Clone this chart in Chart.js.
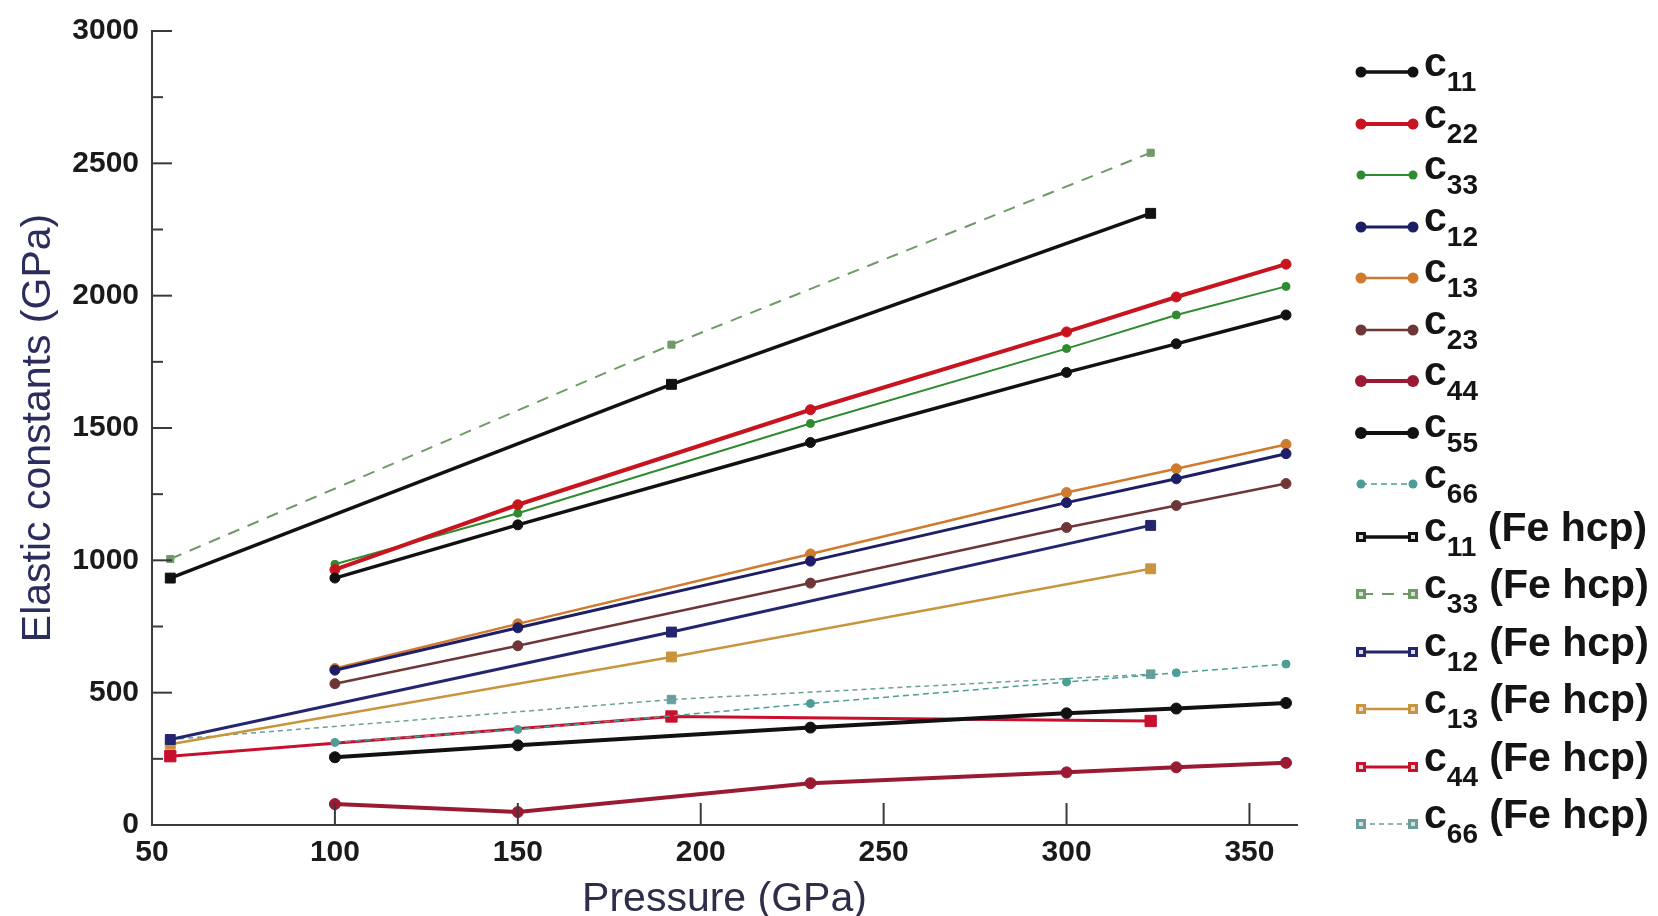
<!DOCTYPE html>
<html>
<head>
<meta charset="utf-8">
<script src="https://cdn.jsdelivr.net/npm/chart.js@4.4.1/dist/chart.umd.min.js"></script>
<style>
  html, body { margin: 0; padding: 0; background: #fff; }
  #wrap { position: relative; width: 1658px; height: 916px; }
  #legend { position: absolute; left: 0; top: 0; }
  .row { position: absolute; left: 1355px; height: 1px; }
  .row canvas { position: absolute; left: 0; top: -10px; }
  .row .lab { position: absolute; left: 69px; top: -31px; white-space: nowrap;
    font-family: "Liberation Sans", Arial, sans-serif; font-weight: bold; font-size: 41px; line-height: 42px; color: #141414; }
  .lab sub { font-size: 28px; vertical-align: -15px; line-height: 0; }
</style>
</head>
<body>
<div id="wrap">
  <canvas id="myChart" width="1658" height="916"></canvas>
  <div id="legend"></div>
</div>
<script>
// data block
const pressure = [100, 150, 230, 300, 330, 360];
const pressureHcp = [55, 192, 323];

const c11 = [933, 1134, 1445, 1710, 1818, 1927];
const c22 = [965, 1210, 1569, 1863, 1995, 2119];
const c33 = [985, 1178, 1517, 1800, 1927, 2035];
const c12 = [585, 745, 997, 1218, 1308, 1403];
const c13 = [591, 760, 1024, 1256, 1346, 1438];
const c23 = [534, 677, 914, 1124, 1207, 1290];
const c44 = [79, 49, 158, 199, 218, 235];
const c55 = [256, 301, 368, 422, 440, 461];
const c66 = [312, 361, 459, 540, 575, 608];

const c11Hcp = [933, 1665, 2311];
const c33Hcp = [1005, 1815, 2540];
const c12Hcp = [323, 729, 1132];
const c13Hcp = [305, 635, 968];
const c44Hcp = [260, 410, 393];
const c66Hcp = [323, 474, 570];

const yTicks = [0, 500, 1000, 1500, 2000, 2500, 3000];

// series -> label parts
const series = [
  { sub: "11", hcp: false, xs: pressure, ys: c11 },
  { sub: "22", hcp: false, xs: pressure, ys: c22 },
  { sub: "33", hcp: false, xs: pressure, ys: c33 },
  { sub: "12", hcp: false, xs: pressure, ys: c12 },
  { sub: "13", hcp: false, xs: pressure, ys: c13 },
  { sub: "23", hcp: false, xs: pressure, ys: c23 },
  { sub: "44", hcp: false, xs: pressure, ys: c44 },
  { sub: "55", hcp: false, xs: pressure, ys: c55 },
  { sub: "66", hcp: false, xs: pressure, ys: c66 },
  { sub: "11", hcp: true, xs: pressureHcp, ys: c11Hcp },
  { sub: "33", hcp: true, xs: pressureHcp, ys: c33Hcp },
  { sub: "12", hcp: true, xs: pressureHcp, ys: c12Hcp },
  { sub: "13", hcp: true, xs: pressureHcp, ys: c13Hcp },
  { sub: "44", hcp: true, xs: pressureHcp, ys: c44Hcp },
  { sub: "66", hcp: true, xs: pressureHcp, ys: c66Hcp },
];

// styles (same order as series)
const styles = [
  { color: "#111111", width: 3.5, r: 5 },
  { color: "#c8141e", width: 4, r: 5 },
  { color: "#2e8b2e", width: 2, r: 4 },
  { color: "#1e1e66", width: 3, r: 5 },
  { color: "#cf7a2c", width: 2.5, r: 5 },
  { color: "#6e3636", width: 2.5, r: 5 },
  { color: "#9a1a34", width: 4, r: 5.5 },
  { color: "#111111", width: 4, r: 5.5 },
  { color: "#4a9e96", width: 1.5, r: 4, dash: [6, 4] },
  { color: "#111111", width: 3.5, r: 7 },
  { color: "#6f9a68", width: 2, r: 5, dash: [12, 9] },
  { color: "#23266e", width: 3, r: 7 },
  { color: "#c8953e", width: 2.5, r: 7 },
  { color: "#c8102e", width: 3, r: 8 },
  { color: "#6a9e9c", width: 1.5, r: 6, dash: [5, 4] },
];

const datasets = series.map((s, i) => {
  const st = styles[i];
  return {
    label: "c" + s.sub + (s.hcp ? " (Fe hcp)" : ""),
    data: s.xs.map((x, k) => ({ x: x, y: s.ys[k] })),
    borderColor: st.color,
    backgroundColor: st.color,
    borderWidth: st.width,
    borderDash: st.dash || [],
    pointStyle: s.hcp ? "rect" : "circle",
    pointRadius: st.r,
    pointBorderWidth: 1,
    pointBackgroundColor: st.color,
    pointBorderColor: st.color,
    tension: 0,
  };
});

// inward tick marks
const innerTicks = {
  id: "innerTicks",
  afterDatasetsDraw(chart) {
    const { ctx, chartArea, scales: { x, y } } = chart;
    ctx.save();
    ctx.strokeStyle = "#3a3a3a";
    ctx.lineWidth = 2;
    y.ticks.forEach((t) => {
      [t.value, t.value - 250].forEach((v, j) => {
        if (v <= 0) return;
        const py = y.getPixelForValue(v);
        ctx.beginPath();
        ctx.moveTo(chartArea.left, py);
        ctx.lineTo(chartArea.left + (j === 0 ? 20 : 11), py);
        ctx.stroke();
      });
    });
    x.ticks.forEach((t) => {
      if (t.value <= 50) return;
      const px = x.getPixelForValue(t.value);
      ctx.beginPath();
      ctx.moveTo(px, chartArea.bottom);
      ctx.lineTo(px, chartArea.bottom - 22);
      ctx.stroke();
    });
    ctx.restore();
  },
};

const tickFont = { family: "'Liberation Sans', Arial, sans-serif", size: 30, weight: "bold" };
const titleFont = { family: "'Liberation Sans', Arial, sans-serif", size: 41 };

const config = {
  type: "line",
  data: { datasets: datasets },
  options: {
    responsive: true,
    maintainAspectRatio: false,
    animation: false,
    layout: { padding: { left: 0, right: 361, top: 28, bottom: 0 } },
    plugins: { legend: { display: false }, tooltip: { enabled: false } },
    scales: {
      x: {
        type: "linear",
        min: 50,
        max: 363,
        border: { display: true, color: "#3a3a3a", width: 2 },
        grid: { display: false, drawTicks: false },
        ticks: { stepSize: 50, includeBounds: false, font: tickFont, color: "#1a1a1a", padding: 10, maxRotation: 0,
          callback: (v) => String(v) },
        title: { display: true, text: "Pressure (GPa)", font: { ...titleFont, lineHeight: 0.8 }, color: "#2e2e4a", padding: { top: 0, bottom: 0 } },
        afterFit: (s) => { s.height = 91; },
      },
      y: {
        min: 0,
        max: 3000,
        border: { display: true, color: "#3a3a3a", width: 2 },
        grid: { display: false, drawTicks: false },
        afterBuildTicks: (s) => { s.ticks = yTicks.map((v) => ({ value: v })); },
        ticks: { font: tickFont, color: "#1a1a1a", padding: 13, callback: (v) => String(v) },
        title: { display: true, text: "Elastic constants (GPa)", font: { ...titleFont, lineHeight: 1.2 }, color: "#2b2d5c", padding: { top: 14, bottom: 0 } },
        afterFit: (s) => { s.width = 152; },
      },
    },
  },
  plugins: [innerTicks],
};

const myChart = new Chart(document.getElementById("myChart"), config);

// legend with subscripts
const legend = document.getElementById("legend");
series.forEach((s, i) => {
  const st = styles[i];
  const j = s.hcp ? i - 9 : i;
  const top = s.hcp ? 537 + j * 57.4 : 72 + j * 51.5;
  const row = document.createElement("div");
  row.className = "row";
  row.style.top = top + "px";
  const cv = document.createElement("canvas");
  cv.width = 64; cv.height = 20;
  const g = cv.getContext("2d");
  g.strokeStyle = st.color;
  g.lineWidth = st.width;
  g.setLineDash(st.dash || []);
  g.beginPath(); g.moveTo(6, 10); g.lineTo(58, 10); g.stroke();
  g.setLineDash([]);
  g.fillStyle = st.color;
  [6, 58].forEach((cx) => {
    if (s.hcp) {
      g.fillRect(cx - 5, 5, 10, 10);
      g.fillStyle = "#ddd"; g.fillRect(cx - 2, 8, 4, 4); g.fillStyle = st.color;
    } else {
      const rr = Math.min(st.r + 0.5, 6);
      g.beginPath(); g.arc(cx, 10, rr, 0, Math.PI * 2); g.fill();
    }
  });
  row.appendChild(cv);
  const lab = document.createElement("div");
  lab.className = "lab";
  lab.innerHTML = "c<sub>" + s.sub + "</sub>" + (s.hcp ? "&nbsp;(Fe hcp)" : "");
  row.appendChild(lab);
  legend.appendChild(row);
});
</script>
</body>
</html>
